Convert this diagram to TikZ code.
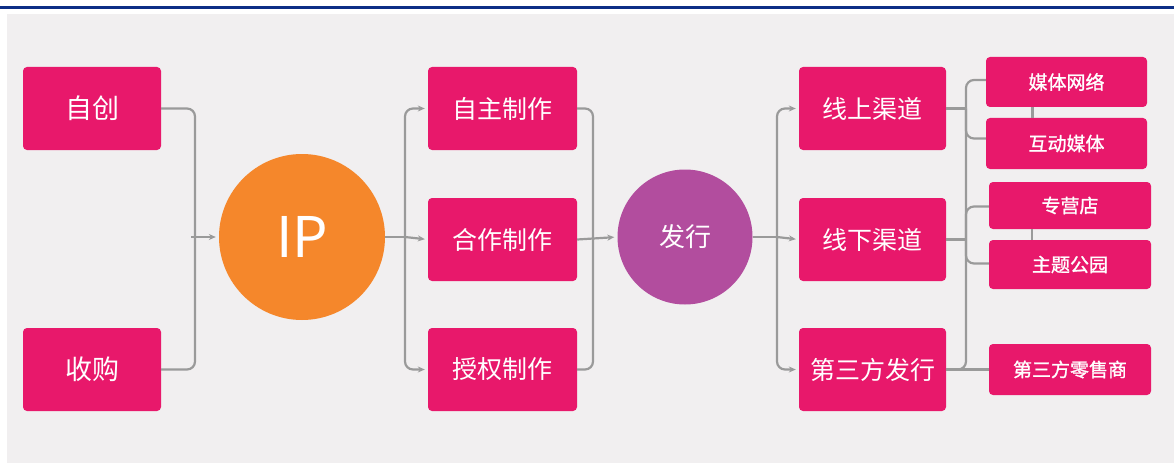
\documentclass[tikz,border=0pt]{standalone}
\usepackage{fontspec}
\setmainfont{Noto Sans CJK SC}
\newfontfamily\cjk{Noto Sans CJK SC}
\newfontfamily\cjkb[FakeBold=1.2]{Noto Sans CJK SC}
\usetikzlibrary{arrows.meta}
\definecolor{boxpink}{HTML}{E8186B}
\definecolor{iporange}{HTML}{F5872B}
\definecolor{fxpurple}{HTML}{B24D9E}
\definecolor{linegray}{HTML}{9A9A9A}
\definecolor{panelgray}{HTML}{F1EFF0}
\definecolor{topblue}{HTML}{0D2F86}
\tikzset{
  box/.style={fill=boxpink, rounded corners=4pt, text=white, inner sep=0pt,
    font=\cjk\fontsize{25}{25}\selectfont},
  bigbox/.style={box, minimum width=138pt, minimum height=83pt, font=\cjk\fontsize{27}{27}\selectfont},
  midbox/.style={box, minimum width=149pt, minimum height=83pt},
  smallbox/.style={box, minimum width=161pt, font=\cjkb\fontsize{19}{19}\selectfont},
  conn/.style={draw=linegray, line width=2.2pt, rounded corners=8pt},
  arr/.style={conn, -{Stealth[length=7pt,width=6pt]}, shorten >=3pt}
}
\begin{document}
\begin{tikzpicture}[x=1pt,y=-1pt]
\useasboundingbox (0,0) rectangle (1174,468);
\fill[white] (0,0) rectangle (1174,468);
\fill[panelgray] (7,14) rectangle (1174,463);
\draw[topblue, line width=3pt] (0,8) -- (1174,8);

% left column
\node[bigbox] (zc) at (92,108.5) {自创};
\node[bigbox] (sg) at (92,369.5) {收购};

% IP circle
\node[circle, fill=iporange, minimum size=166pt, inner sep=0pt, text=white,
  font=\fontsize{56}{56}\selectfont] (ip) at (302,237) {IP};

% production column
\node[midbox] (zz) at (502.5,108.5) {自主制作};
\node[midbox] (hz) at (502.5,239.5) {合作制作};
\node[midbox] (sq) at (502.5,369.5) {授权制作};

% publishing circle
\node[circle, fill=fxpurple, minimum size=135pt, inner sep=0pt, text=white,
  font=\cjk\fontsize{26}{26}\selectfont] (fx) at (685,237) {发行};

% channel column
\node[midbox, minimum width=147pt] (xs) at (872.5,108.5) {线上渠道};
\node[midbox, minimum width=147pt] (xx) at (872.5,239.5) {线下渠道};
\node[midbox, minimum width=147pt] (ds) at (872.5,369.5) {第三方发行};

% right column
\node[smallbox, minimum height=50pt] (mt) at (1066.5,82) {媒体网络};
\node[smallbox, minimum height=51pt] (hd) at (1066.5,143.5) {互动媒体};
\node[smallbox, minimum width=162pt, minimum height=47pt] (zy) at (1070,205.5) {专营店};
\node[smallbox, minimum width=162pt, minimum height=49pt] (zt) at (1070,264.5) {主题公园};
\node[smallbox, minimum width=162pt, minimum height=51pt] (ls) at (1070,369.5) {第三方零售商};

% junction coordinates
\coordinate (j1) at (195,237);
\coordinate (j2) at (405,237);
\coordinate (j3) at (593,237);
\coordinate (j4) at (777,237);
\coordinate (b1) at (966,108.5);
\coordinate (b2) at (966,239.5);
\coordinate (b3) at (966,369.5);

% sources -> IP
\draw[conn] (zc.east) -| (j1);
\draw[conn] (sg.east) -| (j1);
\draw[arr] ([xshift=-4pt]j1) -- (ip.west);

% IP -> production
\draw[conn] (ip.east) -- (j2);
\draw[arr] (j2) |- (zz.west);
\draw[arr] (j2) -- (hz.west);
\draw[arr] (j2) |- (sq.west);

% production -> publishing
\draw[conn] (zz.east) -| (j3);
\draw[conn] (sq.east) -| (j3);
\draw[arr] (hz.east) -- (fx.west);

% publishing -> channels
\draw[conn] (fx.east) -- (j4);
\draw[arr] (j4) |- (xs.west);
\draw[arr] (j4) -- (xx.west);
\draw[arr] (j4) |- (ds.west);

% channels -> outlets
\draw[conn] (xs.east) -- (b1);
\draw[conn] (b1) |- ([yshift=2pt]mt.west);
\draw[conn] (b1) |- ([yshift=5pt]hd.west);
\draw[conn] (xx.east) -- (b2);
\draw[conn] (b2) |- ([yshift=-1pt]zy.west);
\draw[conn] (b2) |- ([yshift=1pt]zt.west);
\draw[conn] (b1) -- (b3) -- (ds.east);
\draw[conn] (ds.east) -- (ls.west);
\draw[conn] ([xshift=-34pt]mt.south) -- ([xshift=-34pt]hd.north);
\draw[conn] ([xshift=-38pt]zy.south) -- ([xshift=-38pt]zt.north);
\end{tikzpicture}
\end{document}
